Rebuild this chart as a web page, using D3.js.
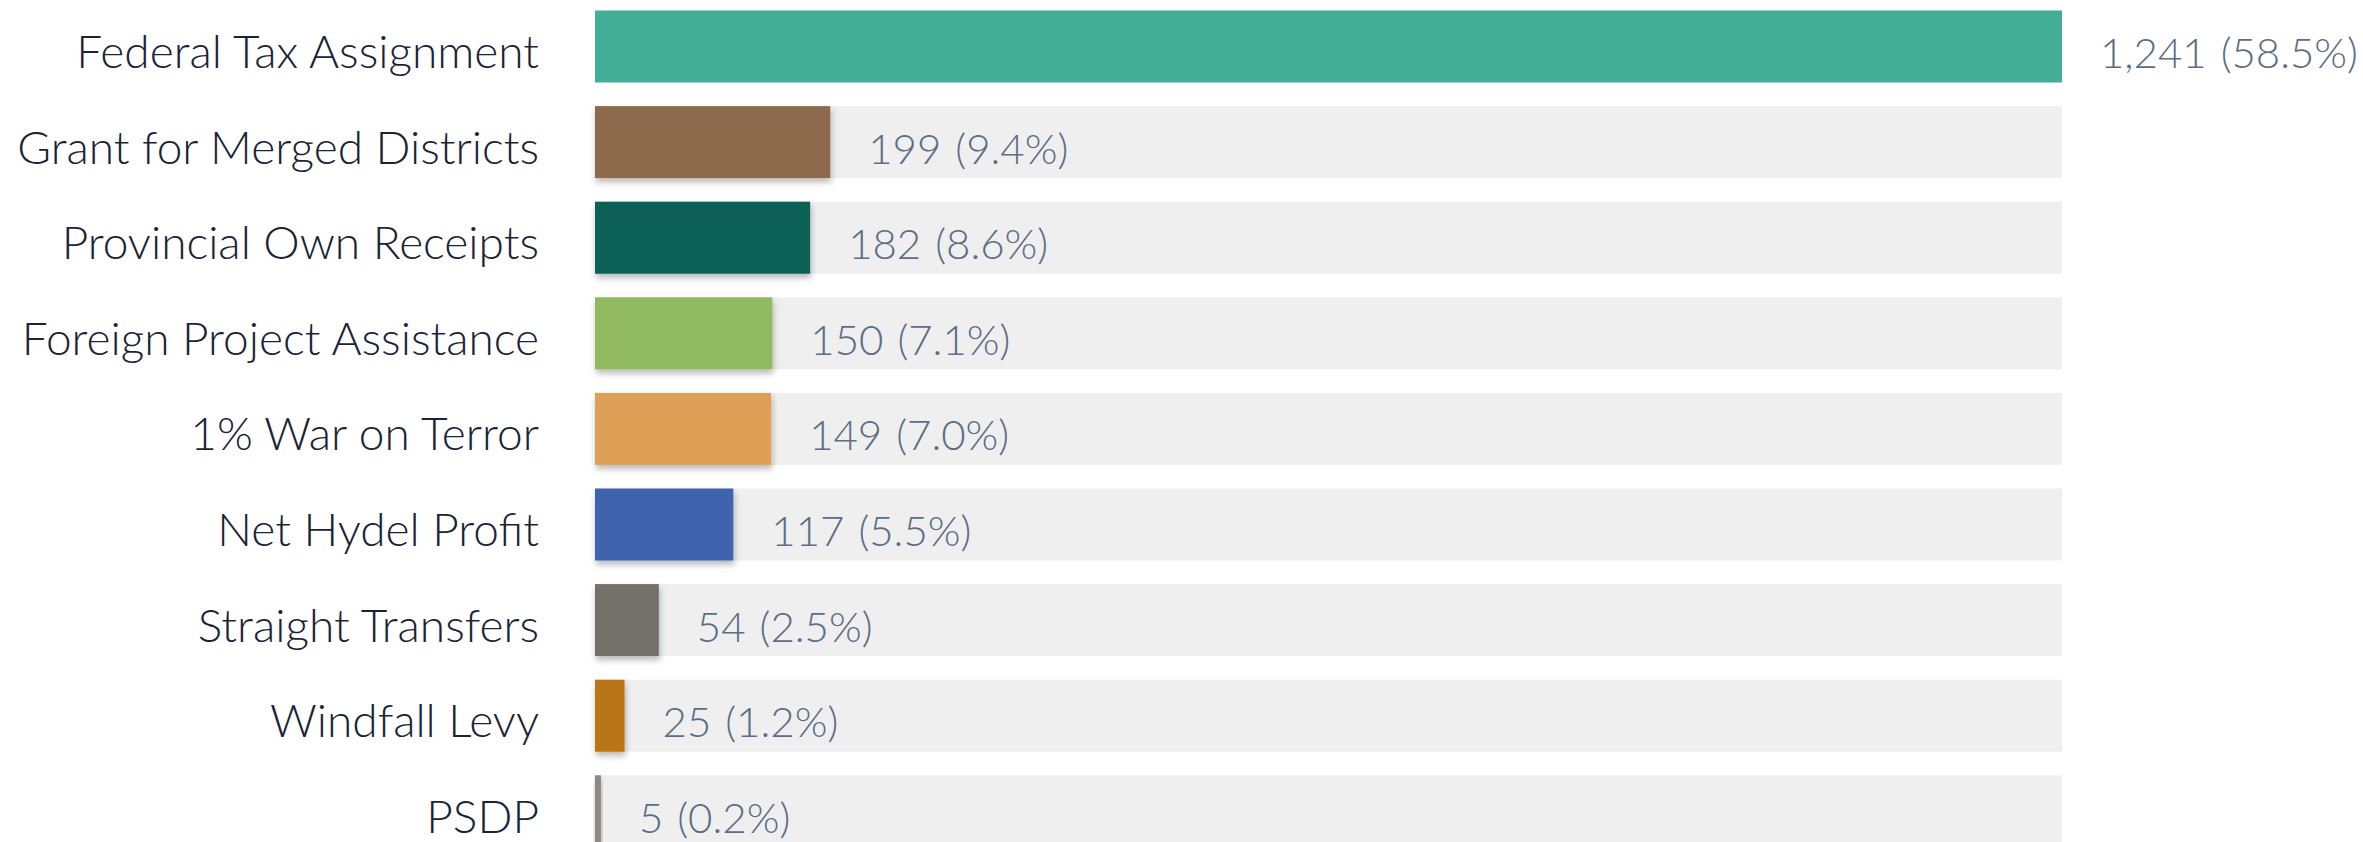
<!DOCTYPE html>
<html>
<head>
<meta charset="utf-8">
<script src="https://cdn.jsdelivr.net/npm/d3@7"></script>
<style>
  html, body { margin: 0; padding: 0; background: #ffffff; }
  svg { display: block; }
</style>
</head>
<body>
<svg id="chart" width="2363" height="842"></svg>
<script>
const categories = [
  "Federal Tax Assignment",
  "Grant for Merged Districts",
  "Provincial Own Receipts",
  "Foreign Project Assistance",
  "1% War on Terror",
  "Net Hydel Profit",
  "Straight Transfers",
  "Windfall Levy",
  "PSDP"
];
const values = [1241, 199, 182, 150, 149, 117, 54, 25, 5];
const shares = ["58.5%", "9.4%", "8.6%", "7.1%", "7.0%", "5.5%", "2.5%", "1.2%", "0.2%"];
const colors = ["#44ad95", "#8c6b4b", "#076157", "#91b95e", "#dda056", "#4064ae", "#73716b", "#b97519", "#8b8b83"];

const data = categories.map((c, i) => ({ cat: c, value: values[i], share: shares[i], color: colors[i], i }));

const W = 2363, H = 842;
const svg = d3.select("#chart");

const defs = svg.append("defs");
const f = defs.append("filter").attr("id", "shadow")
  .attr("x", "-20%").attr("y", "-20%").attr("width", "140%").attr("height", "160%");
f.append("feDropShadow").attr("dx", 1).attr("dy", 4).attr("stdDeviation", 3)
  .attr("flood-color", "#000").attr("flood-opacity", 0.28);

const x = d3.scaleLinear().domain([0, d3.max(values)]).range([595, 2062]);
const step = 95.6;
const y = d3.scaleBand()
  .domain(categories)
  .range([-1.3, -1.3 + categories.length * step])
  .paddingInner(0.247)
  .paddingOuter(0.1235);

const fmt = d3.format(",");
const FONT = "Lato, 'Open Sans', sans-serif";

const rows = svg.selectAll("g.row").data(data).join("g").attr("class", "row");

// background tracks
rows.append("rect")
  .attr("x", x(0))
  .attr("y", d => y(d.cat))
  .attr("width", x.range()[1] - x(0))
  .attr("height", y.bandwidth())
  .attr("fill", "#efefef");

// value bars
rows.append("rect")
  .attr("x", x(0))
  .attr("y", d => y(d.cat))
  .attr("width", d => Math.max(2.5, x(d.value) - x(0)))
  .attr("height", y.bandwidth())
  .attr("fill", d => d.color)
  .attr("filter", d => d.i === 0 ? null : "url(#shadow)");

// category labels
rows.append("text")
  .attr("x", 539)
  .attr("y", d => y(d.cat) + y.bandwidth() / 2 + 21.5)
  .attr("text-anchor", "end")
  .attr("font-family", FONT)
  .attr("font-weight", 300)
  .attr("font-size", 46)
  .attr("fill", "#1a2436")
  .text(d => d.cat);

// value labels
const vl = rows.append("text")
  .attr("x", d => Math.max(x(d.value), x(0) + 2.5) + 38)
  .attr("y", d => y(d.cat) + y.bandwidth() / 2 + 21.5)
  .attr("font-family", FONT)
  .attr("font-weight", 300)
  .attr("font-size", 42)
  .attr("fill", "#5b6d87");
vl.append("tspan").text(d => fmt(d.value));
vl.append("tspan").attr("dx", 14).text(d => "(" + d.share + ")");
</script>
</body>
</html>
